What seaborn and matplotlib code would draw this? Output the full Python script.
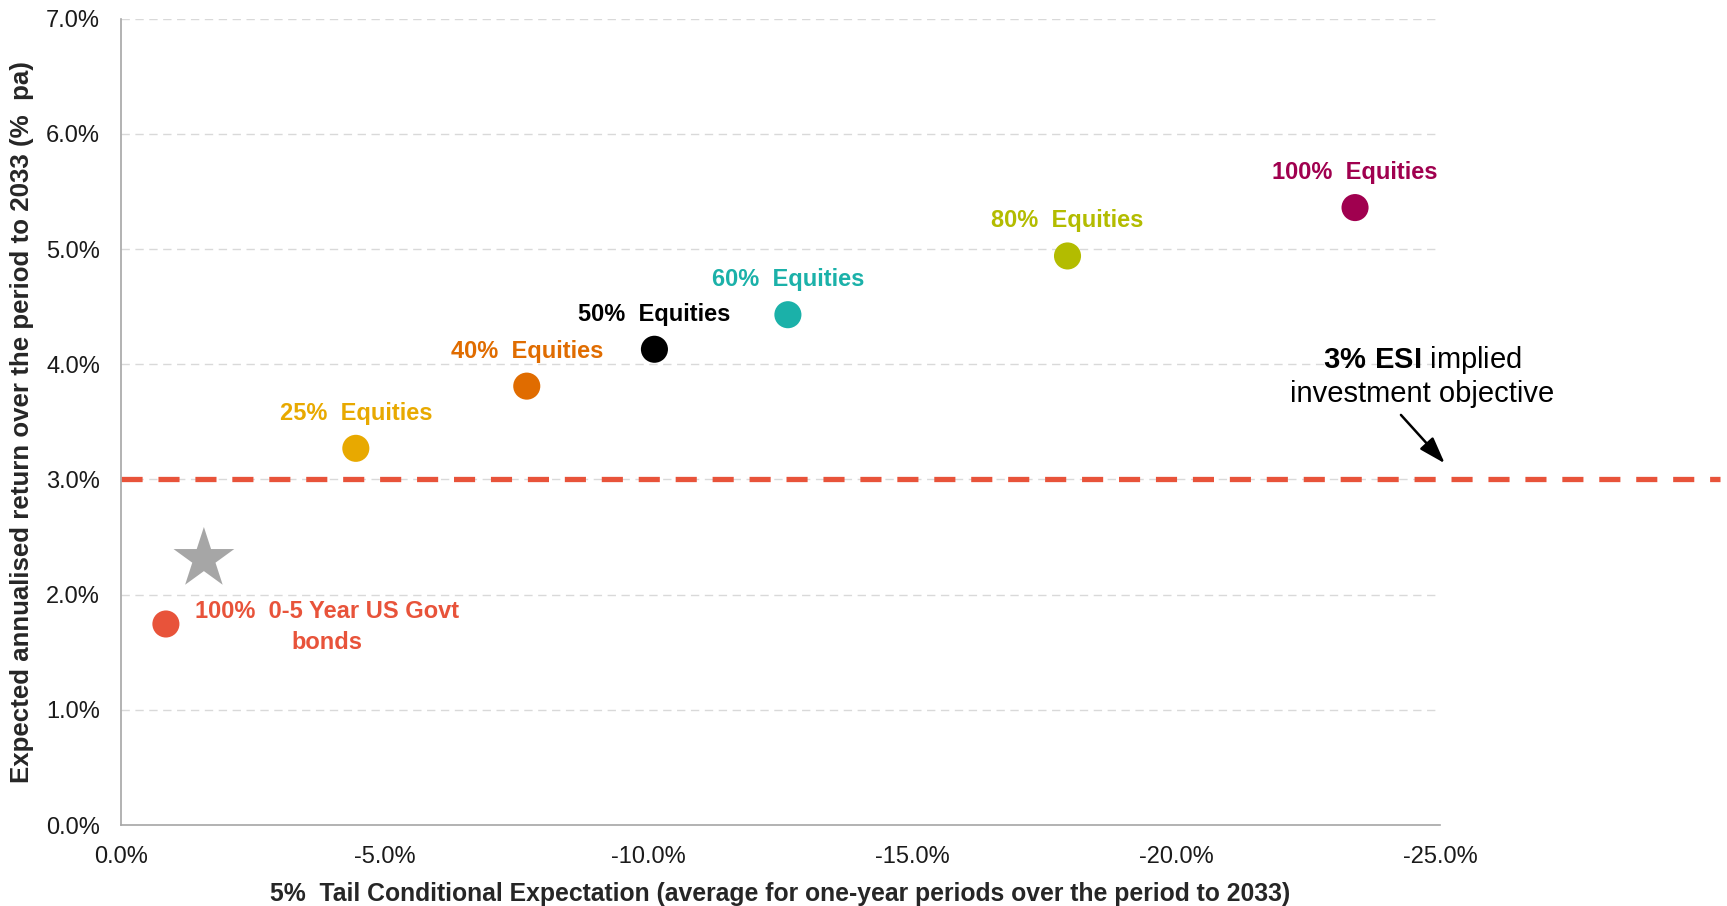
import matplotlib
matplotlib.use("Agg")
import matplotlib.pyplot as plt
import seaborn as sns
import pandas as pd
from matplotlib.ticker import FuncFormatter

# ---- data ----
portfolios = ["100%  0-5 Year US Govt\nbonds", "25%  Equities", "40%  Equities",
              "50%  Equities", "60%  Equities", "80%  Equities", "100%  Equities"]
tce = [-0.85, -4.45, -7.69, -10.11, -12.64, -17.94, -23.39]          # x, %
exp_return = [1.745, 3.27, 3.81, 4.13, 4.43, 4.94, 5.36]             # y, %
colors = ["#E8533A", "#E8A900", "#E06C00", "#000000", "#1BB1A9", "#B3BC00", "#A0004F"]
star_x = [-1.57]
star_y = [2.31]
target_return = 3.0
x_ticks = [0, -5, -10, -15, -20, -25]
y_ticks = [0, 1, 2, 3, 4, 5, 6, 7]

sns.set_theme(style="white")
plt.rcParams["font.family"] = ["Liberation Sans", "DejaVu Sans"]
plt.rcParams["mathtext.fontset"] = "custom"
plt.rcParams["mathtext.rm"] = "Liberation Sans"
plt.rcParams["mathtext.bf"] = "Liberation Sans:bold"

df = pd.DataFrame({"portfolio": portfolios, "tce": tce, "ret": exp_return})

fig = plt.figure(figsize=(17.27, 9.06), dpi=100)
ax = fig.add_axes([0.0701, 0.0894, 0.8338 - 0.0701, 0.9794 - 0.0894])

# grid
for yv in y_ticks[1:]:
    ax.axhline(yv, color="#D9D9D9", lw=1, ls=(0, (6, 4)), zorder=0)

# target line (extends beyond the axes)
ax.plot([0, -30.3], [target_return, target_return], color="#E8533A", lw=3.8,
        ls=(0, (4, 3)), clip_on=False, zorder=2)

sns.scatterplot(data=df, x="tce", y="ret", hue="portfolio",
                palette=dict(zip(portfolios, colors)), s=380, edgecolor="none",
                legend=False, ax=ax, zorder=3)
sns.scatterplot(x=star_x, y=star_y, marker="*", s=46**2, color="#A6A6A6",
                edgecolor="none", legend=False, ax=ax, zorder=3)

# labels
for name, xv, yv, c in zip(portfolios, tce, exp_return, colors):
    if "bonds" in name:
        ax.annotate(name, (xv, yv), xytext=(161, -3), textcoords="offset pixels",
                    ha="center", va="center", color=c, fontsize=17,
                    fontweight="bold", linespacing=1.4)
    else:
        ax.annotate(name, (xv, yv), xytext=(0, 35), textcoords="offset pixels",
                    ha="center", va="center", color=c, fontsize=17,
                    fontweight="bold")

# ESI annotation
ax.text(-24.66, 3.90, "$\\mathbf{3\\%\\ ESI}$ implied\ninvestment objective",
        ha="center", va="center", fontsize=21, color="black", clip_on=False,
        linespacing=1.2)
ax.annotate("", xy=(-25.09, 3.14), xytext=(-24.26, 3.56), xycoords="data",
            arrowprops=dict(arrowstyle="-|>,head_length=0.9,head_width=0.3",
                            color="black", lw=1.8, mutation_scale=18,
                            shrinkA=0, shrinkB=0),
            annotation_clip=False)

ax.set_xlim(0, -25)
ax.set_ylim(0, 7)
ax.set_xticks(x_ticks)
ax.set_yticks(y_ticks)
ax.xaxis.set_major_formatter(FuncFormatter(lambda v, p: f"{v:.1f}%"))
ax.yaxis.set_major_formatter(FuncFormatter(lambda v, p: f"{v:.1f}%"))
ax.tick_params(axis="both", length=0, labelsize=17, colors="#1A1A1A")
ax.tick_params(axis="x", pad=15)
ax.tick_params(axis="y", pad=15)

for s in ["top", "right"]:
    ax.spines[s].set_visible(False)
for s in ["left", "bottom"]:
    ax.spines[s].set_color("#A6A6A6")
    ax.spines[s].set_linewidth(1.2)

ax.set_xlabel("5%  Tail Conditional Expectation (average for one-year periods over the period to 2033)",
              fontsize=17.8, fontweight="bold", labelpad=10)
ax.set_ylabel("Expected annualised return over the period to 2033 (%  pa)",
              fontsize=18.6, fontweight="bold", labelpad=9)

fig.savefig("out.png", dpi=100, facecolor="white")
